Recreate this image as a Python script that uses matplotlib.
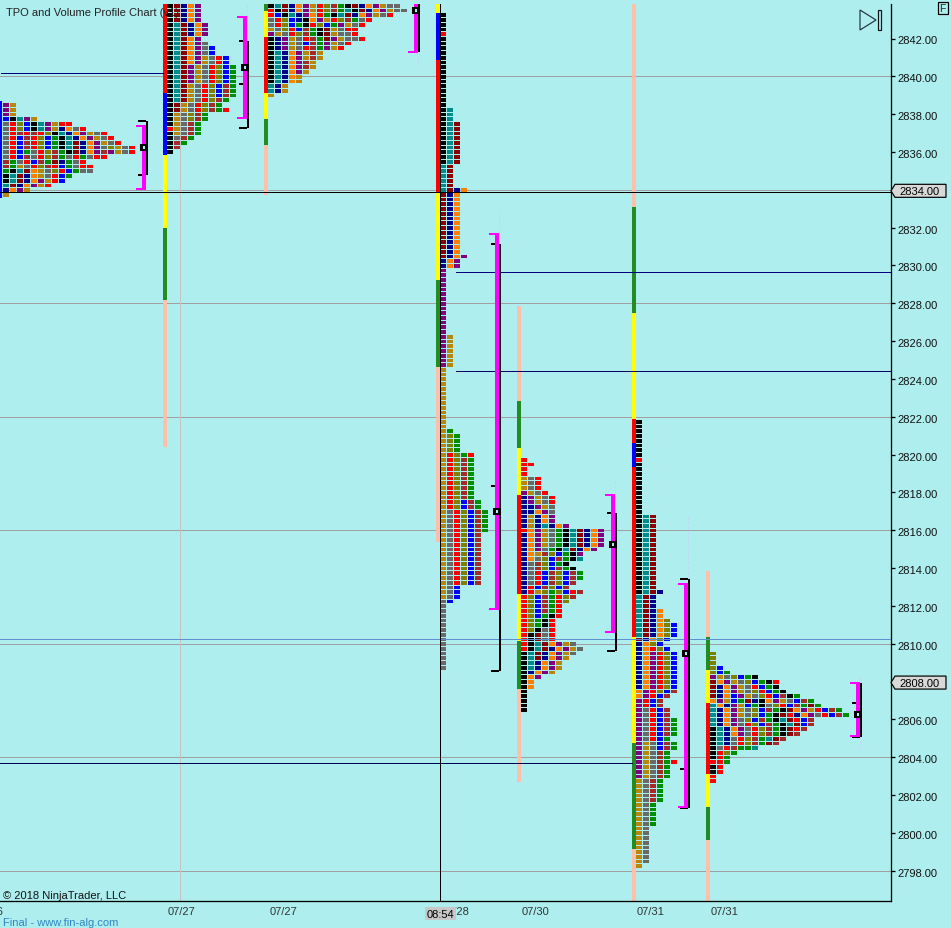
import matplotlib
matplotlib.use("Agg")
import matplotlib.pyplot as plt
from matplotlib.patches import Polygon, Rectangle
from matplotlib.transforms import ScaledTranslation

plt.rcParams['font.family'] = ['Liberation Sans', 'DejaVu Sans']
plt.rcParams['font.size'] = 8

# one letter per TPO period colour
tpo_colors = {
    'k': '#000000', 't': '#008B8B', 'm': '#8B0000', 'n': '#00008B',
    'o': '#FF8000', 'p': '#800080', 'g': '#B8860B', 'y': '#696969',
    'l': '#808000', 'r': '#FF0000', 'b': '#0000FF', 'B': '#A52A2A',
    'G': '#008F00',
}
bar_colors = {'r': '#FF0000', 'b': '#0000FF', 'y': '#FFFF00',
              'g': '#228B22', 'p': '#FFBFA8'}

# rows run from the top price downward, 0.25 points each
rows_a_top = 2838.5
rows_a = ["pg"] * 3 + [
    "bktpg", "yrlbktpgrr", "yrlbktpgnoyr", "yrBrBrlktnopgyr", "yrbBrlbGktnopgyr",
    "yrbBrlbGktmnopgyr", "yrbBrlbGktmnopylgyr", "yrbGyrlBGkmnopBpgyr", "yrbByrlBGyrGyrr",
    "BGyrbBGmnGyr", "BGgyrlBrbGyrr", "GktmogylrbGyy", "ktmnogyrbG", "ktmnopgrb",
    "tmnopgr", "nopg", "g"]

rows_b_top = 2843.75
rows_b = ["kmnop"] * 4 + ["ktmnop"] * 3 + [
    "ktmop", "ktmopy", "ktmopyb", "ktmopyb", "ktmopgyrb", "ktmopgyrb"] + ["ktmpgyrlbG"] * 4 + [
    "ktmgyrlbBG"] * 3 + [
    "ktmgyrlBG", "kmgyrlBG", "kmgyrlBGr", "kgylBG", "kgylBG", "kgyBG", "rgyBG", "kgyBG",
    "kyBG", "kBG", "kB", "k"]

rows_c_top = 2843.75
rows_c = [
    "ktmnopgrlBGkmnopgyy", "rkmnopgrlBGtkmnopgyy", "rbktnporGktmnopgyr", "yrlbnkopgrlBGyr",
    "yrlbGkrlbGpgyr", "gylrbBGkmgyrr", "pgyrlBGkmgyyr", "knpgyrBGmpgyyr", "knpgybBGpgyr",
    "knpgyrBGpgr", "ktnopgBg", "ktnopgBg", "ktnopBg", "ktnopBg", "ktnopg", "ktnog", "ktnog",
    "tng", "tng", "g"]

rows_d_top = 2843.25
rows_d = ["k"] * 4 + ["r"] + ["k"] * 15 + ["kt"] * 3 + ["ktm"] * 9 + ["tm"] * 5 + ["tmno"] + [
    "mno"] * 13 + ["mnop"] + ["nop"] * 2 + ["p"] * 14 + ["pg"] * 7 + ["g"] * 13 + [
    "gG"] + ["glG"] * 4 + ["grlGr"] + ["grlBG"] * 9 + ["grlbBG"] * 2 + ["gyrlbBG"] * 5 + [
    "gyrlbB"] * 11 + ["gyb"] * 3 + ["yb"] + ["y"] * 14

rows_f_top = 2819.75
rows_f = [
    "r", "rr", "r", "r", "gyr", "gyr", "gyr", "pgyr", "npgyr", "npgyr", "nnpgy", "nnopy",
    "ngnop", "ngnop", "ngntnop", "ropgyGktmnop", "nopgyGktmnop", "nopgyGktmnop", "nopgyGktmnop",
    "nopyGktmnop", "nogBlbGkp", "noylbBGkt", "nyBlbGk", "nyBlbBGk", "nyrbBlbBG", "nyrbBlbBG",
    "nyrbBlbB", "nrbBlbB", "nrglGlbrB", "rlbBGrlB", "rlbBGrl", "rlbBGr", "rlbBGr", "rlbGkr",
    "rlGkr", "rlGkr", "rlkyr", "rkmyr", "rkmyr", "rktmopgy", "rktmnopgy", "ktmnopgy", "ktmnopg",
    "ktnopg", "ktnopg", "knopg", "kop", "ko", "ko", "k", "k", "k", "k", "k"]

rows_g_top = 2821.75
rows_g = ["k"] * 8 + ["r"] + ["k"] * 11 + ["ktm"] * 16 + ["ktmn"] + ["tmn"] * 3 + ["tmno"] * 2 + [
    "tmnol"] + ["tmnolb"] * 3 + ["mnolb", "nolb", "norlb"] + ["noprlb"] * 8 + [
    "oprlbB", "oprbB", "prbB", "prbB", "pyrbB", "pyrbB"] + ["pyrbBG"] * 4 + [
    "pyrbG", "pgybBG", "pgybBG", "pgyBG", "pgyBG", "pgyBGr", "pgyBG", "pgyBG", "pgyBG"] + [
    "gyBG"] * 5 + ["gyG"] * 5 + ["gy"] * 8 + ["g"]

rows_h_top = 2809.5
rows_h = ["l"] * 3 + [
    "lb", "lbG", "pgylbGk", "mopgylbGkr", "mnopgyrbGk", "mnopgylrbGk", "mnobpgylrbBkG",
    "opgbGmnkopgybBG", "tonpgbGkylrbBGmG", "tnopgylbBGkmopgrbBG", "tnopgylbGkmrnopyrbBG",
    "tnopylbBGktmrbB", "tnopyrlbBGktmbB", "ktnopyrlBGkmrB", "ktnopyrlBGkmB", "ktnyrlBGtmB",
    "ktnyrlBGmB", "kyrBGGt", "krlG", "krG", "rrG", "kr", "kr", "r", "r"]

profile_rows = [rows_a, rows_b, rows_c, rows_d, rows_f, rows_g, rows_h]
profile_tops = [rows_a_top, rows_b_top, rows_c_top, rows_d_top, rows_f_top, rows_g_top, rows_h_top]
profile_x = [3, 167, 268, 440, 521, 636, 710]

# period bars: (colour, price where the segment ends), first entry holds the start price
bar_x = [-2, 163, 264, 436, 517, 632, 706]
bar_starts = [2838.75, 2844, 2844, 2844, 2827.91, 2844, 2813.9]
bar_segments = [
    [('b', 2833.6)],
    [('r', 2839.17), ('b', 2835.89), ('y', 2832.03), ('g', 2828.23), ('p', 2820.45)],
    [('g', 2843.5), ('y', 2842.13), ('r', 2839.17), ('y', 2837.8), ('g', 2836.42), ('p', 2833.78)],
    [('y', 2843.4), ('b', 2840.92), ('r', 2833.94), ('y', 2829.28), ('g', 2824.68), ('p', 2815.43)],
    [('p', 2822.89), ('g', 2820.4), ('y', 2817.92), ('r', 2812.68), ('y', 2810.2), ('g', 2807.66), ('p', 2802.74)],
    [('p', 2833.14), ('g', 2827.54), ('y', 2821.93), ('r', 2820.66), ('b', 2819.4), ('r', 2810.41),
     ('y', 2804.8), ('g', 2799.2), ('p', 2796.0)],
    [('p', 2810.41), ('g', 2808.66), ('y', 2806.92), ('r', 2803.17), ('y', 2801.42), ('g', 2799.68), ('p', 2796.0)],
]

# value area brackets on the right of each profile
bracket_x = [146, 247, 418, 499, 615, 688, 860]
magenta_hi = [2837.43, 2843.19, 2844.5, 2831.72, 2817.92, 2813.21, 2807.98]
magenta_lo = [2834.10, 2837.85, 2841.34, 2811.89, 2810.67, 2801.42, 2805.18]
black_hi = [2837.69, 2841.92, 2844.5, 2831.19, 2816.97, 2813.48, 2807.98]
black_lo = [2834.84, 2837.32, 2841.34, 2808.63, 2809.67, 2801.37, 2805.12]
poc_price = [2836.29, 2840.52, 2843.53, 2817.04, 2815.30, 2809.54, 2806.31]
extra_tick = [None, 2839.65, None, 2818.39, None, 2803.43, 2806.94]
stub_hi = [2837.85, 2843.8, 2841.34, 2832.83, 2818.60, 2816.86, 2808.3]
stub_lo = [2834.31, 2837.32, 2840.65, 2831.72, 2817.65, 2813.16, 2804.44]

grid_prices = [2840, 2834, 2828, 2822, 2816, 2810, 2804, 2798]
# price, x start, x end, colour
level_lines = [
    (2840.2, 1, 163, '#000080'),
    (2829.7, 456, 890, '#000080'),
    (2824.47, 456, 890, '#000060'),
    (2810.3, 0, 890, '#6090D0'),
    (2803.75, 0, 632, '#000050'),
    (2833.92, 0, 890, '#000000'),
]

y_ticks = list(range(2798, 2844, 2))
y_tick_labels = ["" if t in (2834, 2808) else f"{t}.00" for t in y_ticks]
date_ticks = [182, 283, 456, 536, 651, 725]
date_labels = ["07/27", "07/27", "07/28", "07/30", "07/31", "07/31"]
price_marks = [2834, 2808]

W, H = 951, 929
PX_PER_POINT = 18.914
SHIFT = 1 / PX_PER_POINT  # marks rendered one pixel high without this
fig = plt.figure(figsize=(W / 100, H / 100), dpi=100, facecolor='#AFEEEE')
ax = fig.add_axes([0, (H - 902.3) / H, 890.5 / W, (902.3 - 5) / H], facecolor='#AFEEEE')
ax.set_xlim(0, 890.5)
ax.set_ylim(2842 - (902.3 - 39.5) / PX_PER_POINT, 2842 + (39.5 - 5) / PX_PER_POINT)
px = 0.72  # one pixel as a line width


def price_to_px(p):
    return 39.5 + (2842 - p) * PX_PER_POINT


def px_to_price(y):
    return 2842 - (y - 39.5) / PX_PER_POINT


def draw_cells(rows, top, x0):
    for i, row in enumerate(rows):
        price = top - i * 0.25
        # whole pixel row edges, so that a one pixel gap stays between the rows
        y_top = round(price_to_px(price) - 2.5) + 1
        y_next = round(price_to_px(price - 0.25) - 2.5) + 1
        lo = px_to_price(y_next - 1)
        hi = px_to_price(y_top)
        for j, c in enumerate(row):
            ax.barh(lo, 6, left=x0 + j * 7, height=hi - lo, align='edge', color=tpo_colors[c],
                    antialiased=False, linewidth=0, zorder=2)


def draw_bar(x, start, segments):
    hi = start
    for c, lo in segments:
        ax.bar(x, hi - lo, width=4, bottom=lo - SHIFT, align='edge', color=bar_colors[c],
               antialiased=False, linewidth=0, zorder=2.1)
        hi = lo


def draw_bracket(xb, m_hi, m_lo, b_hi, b_lo, poc, extra):
    ax.bar(xb, b_hi - b_lo, width=2, bottom=b_lo - SHIFT, align='edge', color='black',
           antialiased=False, linewidth=0, zorder=4)
    for p in [b_hi, b_lo]:
        ax.hlines(p - SHIFT, xb - 8, xb, color='black', lw=2 * px, antialiased=False, zorder=4)
    if extra is not None:
        ax.hlines(extra - SHIFT, xb - 8, xb, color='black', lw=2 * px, antialiased=False, zorder=4)
    ax.bar(xb - 4, m_hi - m_lo, width=4, bottom=m_lo - SHIFT, align='edge', color='#FF00FF',
           antialiased=False, linewidth=0, zorder=4.1)
    for p in [m_hi, m_lo]:
        ax.hlines(p - SHIFT, xb - 10, xb, color='#FF00FF', lw=2 * px, antialiased=False, zorder=4.1)
    ax.bar(xb - 6, 7 / PX_PER_POINT, width=8, bottom=poc - SHIFT - 3.5 / PX_PER_POINT, align='edge',
           color='black', antialiased=False, linewidth=0, zorder=4.2)
    ax.bar(xb - 3, 3 / PX_PER_POINT, width=2, bottom=poc - SHIFT - 1.5 / PX_PER_POINT, align='edge',
           color='#AFEEEE', antialiased=False, linewidth=0, zorder=4.3)


ax.hlines(grid_prices, 0, 890.5, color='#A0A0A0', lw=px, antialiased=False, zorder=1)
ax.axvline(180, color='#C4C4C4', lw=px, antialiased=False, zorder=1)

for rows, top, x0 in zip(profile_rows, profile_tops, profile_x):
    draw_cells(rows, top, x0)
for x, start, segs in zip(bar_x, bar_starts, bar_segments):
    draw_bar(x, start, segs)

for price, x1, x2, c in level_lines:
    ax.hlines(price - 0.7 * SHIFT, x1, x2, color=c, lw=px, antialiased=False, zorder=3)
ax.axvline(440, color='black', lw=px, antialiased=False, zorder=5)

for x, hi, lo in zip(bracket_x, stub_hi, stub_lo):
    ax.vlines(x, lo, hi, color='#BFD8F5', lw=px, linestyles=(0, (3, 2)), zorder=1.5)
for vals in zip(bracket_x, magenta_hi, magenta_lo, black_hi, black_lo, poc_price, extra_tick):
    draw_bracket(*vals)

for s in ['top', 'left']:
    ax.spines[s].set_visible(False)
for s in ['right', 'bottom']:
    ax.spines[s].set_linewidth(px * 1.3)
ax.yaxis.tick_right()
ax.set_yticks(y_ticks)
ax.set_yticklabels(y_tick_labels, color='#111111')
ax.tick_params(axis='y', length=3, width=px * 1.3, pad=2.2)
# tick labels sit a pixel lower in the reference
down_1px = ScaledTranslation(0, -0.01, fig.dpi_scale_trans)
for lab in ax.get_yticklabels():
    lab.set_transform(lab.get_transform() + down_1px)
ax.set_xticks(date_ticks)
ax.set_xticklabels(date_labels, color='#333333')
ax.tick_params(axis='x', length=0, pad=3.7)

# overlay in pixel coordinates for the chart furniture
ov = fig.add_axes([0, 0, 1, 1], zorder=10)
ov.set_xlim(0, W)
ov.set_ylim(H, 0)
ov.axis('off')
ov.patch.set_visible(False)

ov.text(6, 13, "TPO and Volume Profile Chart (v1)", color='#222222', va='center', ha='left')
ov.text(3, 896.5, "© 2018 NinjaTrader, LLC", color='#111111', va='center', ha='left')
ov.text(3, 923, "Final - www.fin-alg.com", color='#2E86C1', va='center', ha='left')
ov.text(3, 912, "07/26", color='#333333', va='center', ha='right')

ov.add_patch(Rectangle((425, 908), 31, 13, facecolor='#C8C8C8', edgecolor='none'))
ov.text(440.5, 915, "08:54", color='black', va='center', ha='center')

for p in price_marks:
    yc = price_to_px(p) + 1
    ov.add_patch(Polygon([(891, yc), (895, yc - 6.5), (946, yc - 6.5), (946, yc + 6.5), (895, yc + 6.5)],
                         closed=True, facecolor='#D8D8D8', edgecolor='black', lw=px * 1.2))
    ov.text(899, yc + 0.3, f"{p}.00", color='black', va='center', ha='left')

ov.add_patch(Polygon([(860, 11), (876, 21), (860, 31)], closed=True, facecolor='none',
                     edgecolor='#223344', lw=px * 1.2))
ov.add_patch(Rectangle((877.5, 10.5), 3, 20, facecolor='none', edgecolor='#111111', lw=px * 1.2))
ov.add_patch(Rectangle((937.5, 2.5), 10, 12, facecolor='none', edgecolor='black', lw=px * 1.2))
ov.text(942.5, 8.8, "F", color='#222222', va='center', ha='center', fontsize=7.5)

fig.savefig("out.png", dpi=100, facecolor=fig.get_facecolor())
